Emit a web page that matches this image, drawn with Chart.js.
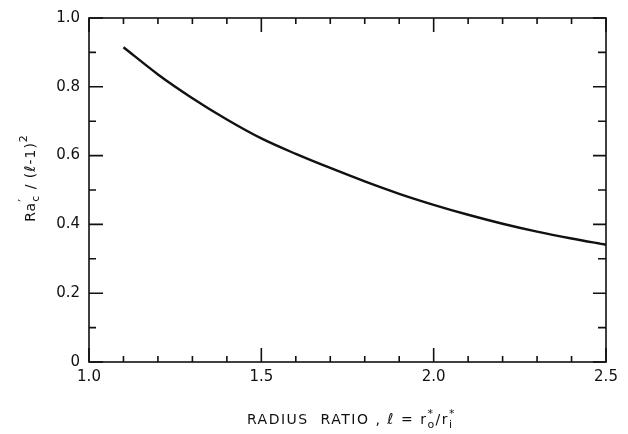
<!DOCTYPE html>
<html>
<head>
<meta charset="utf-8">
<script src="https://cdn.jsdelivr.net/npm/chart.js@4/dist/chart.umd.min.js"></script>
<style>
  html, body { margin: 0; padding: 0; background: #fff; }
  #wrap { width: 628px; height: 434px; }
</style>
</head>
<body>
<div id="wrap"><canvas id="c" width="628" height="434"></canvas></div>
<script>
// ---- data ----
const radiusRatio = [1.1, 1.2, 1.3, 1.4, 1.5, 1.6, 1.7, 1.8, 1.9, 2.0, 2.1, 2.2, 2.3, 2.4, 2.5];
const criticalRaRatio = [0.915, 0.836, 0.767, 0.705, 0.650, 0.605, 0.564, 0.525, 0.489, 0.457, 0.428, 0.402, 0.379, 0.359, 0.341];
const xTickValues = [1.0, 1.5, 2.0, 2.5];
const yTickValues = [0, 0.2, 0.4, 0.6, 0.8, 1.0];
const xMinorStep = 0.1;
const yMinorStep = 0.1;

const FONT = '"DejaVu Sans", "Liberation Sans", sans-serif';
const INK = '#111';

function drawParts(ctx, parts, cx, cy) {
  // parts: {t, size, dy, italic, stack}
  let widths = [];
  let total = 0;
  let prevW = 0;
  parts.forEach((p, i) => {
    ctx.font = (p.italic ? 'italic ' : '') + p.size + 'px ' + FONT;
    const w = ctx.measureText(p.t).width;
    widths.push(w);
    if (p.stack) {
      total += Math.max(0, w - prevW);
      prevW = Math.max(prevW, w);
    } else {
      total += w;
      prevW = w;
    }
  });
  let x = cx - total / 2;
  let lastStart = x;
  let lastW = 0;
  parts.forEach((p, i) => {
    ctx.font = (p.italic ? 'italic ' : '') + p.size + 'px ' + FONT;
    const w = widths[i];
    if (p.stack) {
      ctx.fillText(p.t, lastStart, cy + (p.dy || 0));
      const nw = Math.max(lastW, w);
      x = lastStart + nw;
      lastW = nw;
    } else {
      ctx.fillText(p.t, x, cy + (p.dy || 0));
      lastStart = x;
      lastW = w;
      x += w;
    }
  });
}

const framePlugin = {
  id: 'frame',
  afterDatasetsDraw(chart) {
    const ctx = chart.ctx;
    const xs = chart.scales.x, ys = chart.scales.y;
    const a = chart.chartArea;
    ctx.save();
    ctx.strokeStyle = INK;
    ctx.lineWidth = 1.6;
    ctx.lineCap = 'butt';
    ctx.strokeRect(a.left, a.top, a.right - a.left, a.bottom - a.top);
    // x ticks (bottom and top, pointing inward)
    for (let v = xs.min; v <= xs.max + 1e-9; v += xMinorStep) {
      const r = Math.round(v * 10) / 10;
      const major = Math.abs(r * 2 - Math.round(r * 2)) < 1e-6;
      const len = major ? 14 : 6;
      const px = xs.getPixelForValue(r);
      ctx.beginPath();
      ctx.moveTo(px, a.bottom); ctx.lineTo(px, a.bottom - len);
      ctx.moveTo(px, a.top); ctx.lineTo(px, a.top + len);
      ctx.stroke();
    }
    // y ticks (left and right, pointing inward)
    for (let v = ys.min; v <= ys.max + 1e-9; v += yMinorStep) {
      const r = Math.round(v * 10) / 10;
      const major = Math.abs(r * 5 - Math.round(r * 5)) < 1e-6;
      const len = major ? 14 : 7;
      const py = ys.getPixelForValue(r);
      ctx.beginPath();
      ctx.moveTo(a.left, py); ctx.lineTo(a.left + len, py);
      ctx.moveTo(a.right, py); ctx.lineTo(a.right - (major ? 13 : 8), py);
      ctx.stroke();
    }
    ctx.restore();

    // axis titles
    ctx.save();
    ctx.fillStyle = INK;
    ctx.textBaseline = 'alphabetic';
    ctx.textAlign = 'left';
    try { ctx.letterSpacing = '1.5px'; } catch (e) {}
    drawParts(ctx, [
      { t: 'RADIUS  RATIO , ', size: 14 },
      { t: 'ℓ', size: 15, italic: true },
      { t: ' = r', size: 14 },
      { t: 'o', size: 11, dy: 4 },
      { t: '*', size: 11, dy: -7, stack: true },
      { t: '/r', size: 14 },
      { t: 'i', size: 11, dy: 4 },
      { t: '*', size: 11, dy: -7, stack: true }
    ], (a.left + a.right) / 2 + 4, 424);
    try { ctx.letterSpacing = '1px'; } catch (e) {}
    ctx.translate(35, 178);
    ctx.rotate(-Math.PI / 2);
    drawParts(ctx, [
      { t: 'Ra', size: 14 },
      { t: 'c', size: 11, dy: 4 },
      { t: '′', size: 12, dy: -8, stack: true },
      { t: ' / (', size: 14 },
      { t: 'ℓ', size: 15, italic: true },
      { t: '-1)', size: 14 },
      { t: '2', size: 11, dy: -8 }
    ], 0, 0);
    ctx.restore();
  }
};

new Chart(document.getElementById('c'), {
  type: 'line',
  data: {
    datasets: [{
      data: radiusRatio.map((x, i) => ({ x: x, y: criticalRaRatio[i] })),
      borderColor: INK,
      borderWidth: 2.4,
      pointRadius: 0,
      fill: false,
      cubicInterpolationMode: 'monotone'
    }]
  },
  options: {
    responsive: false,
    animation: false,
    events: [],
    layout: { padding: { top: 14, right: 22, left: 0, bottom: 0 } },
    plugins: { legend: { display: false }, tooltip: { enabled: false }, title: { display: false } },
    scales: {
      x: {
        type: 'linear',
        min: 1.0, max: 2.5,
        grid: { display: false, drawTicks: false },
        border: { display: false },
        afterFit: s => { s.height = 72; },
        afterBuildTicks: s => { s.ticks = xTickValues.map(v => ({ value: v })); },
        ticks: {
          color: INK,
          font: { family: FONT, size: 15 },
          padding: 6,
          maxRotation: 0,
          callback: v => Number(v).toFixed(1)
        }
      },
      y: {
        type: 'linear',
        min: 0, max: 1.0,
        grid: { display: false, drawTicks: false },
        border: { display: false },
        afterFit: s => { s.width = 89; },
        afterBuildTicks: s => { s.ticks = yTickValues.map(v => ({ value: v })); },
        ticks: {
          color: INK,
          font: { family: FONT, size: 15 },
          padding: 9,
          callback: v => (v === 0 ? '0' : Number(v).toFixed(1))
        }
      }
    }
  },
  plugins: [framePlugin]
});
</script>
</body>
</html>
